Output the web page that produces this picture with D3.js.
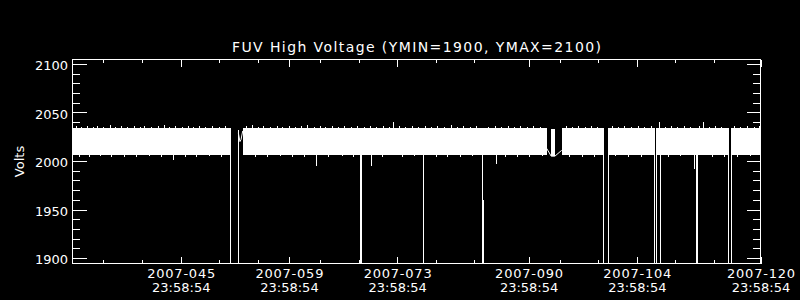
<!DOCTYPE html>
<html>
<head>
<meta charset="utf-8">
<script src="https://cdn.jsdelivr.net/npm/d3@7"></script>
<style>
	html, body { margin: 0; padding: 0; background: #000; }
	svg { display: block; }
	text { font-family: 'DejaVu Sans', sans-serif; fill: #fff; }
</style>
</head>
<body>
<div id="chart"></div>
<script>
// day-of-year 2007 (decimal), ticks sit at 23:58:54 of the labelled day
var tick_offset = 1 - 66 / 86400;

var x_major_days = [45, 59, 73, 90, 104, 120];
var x_minor_days = [35, 40, 50, 55, 63, 68, 78, 83, 94, 99, 109, 114];
var x_tick_time = '23:58:54';
var y_major = [1900, 1950, 2000, 2050, 2100];
var y_minor = [1910, 1920, 1930, 1940, 1960, 1970, 1980, 1990, 2010, 2020, 2030, 2040, 2060, 2070, 2080, 2090];

// [start day, end day, low volts, high volts] of the dense band
var band_segments = [
	[31.99, 52.44, 2006, 2034],
	[54.02, 84.97, 2006, 2034],
	[85.10, 93.34, 2006, 2034],
	[93.88, 94.42, 2005, 2033],
	[95.28, 100.70, 2006, 2034],
	[101.27, 107.30, 2006, 2034],
	[107.43, 116.88, 2006, 2034],
	[117.14, 121.10, 2006, 2034]
];

// dropouts: [day, from volts, to volts]
var dropouts = [
	[52.43, 2034, 1880], [53.41, 2032, 1880],
	[69.14, 2034, 1880], [69.26, 2034, 1880],
	[77.38, 2006, 1880],
	[84.91, 2034, 1880], [85.04, 1960, 1880],
	[100.67, 2034, 1880], [101.31, 2034, 1880],
	[107.23, 2034, 1880], [107.49, 2034, 1880], [108.00, 2034, 1880],
	[112.70, 2034, 1880], [112.82, 2034, 1880],
	[116.84, 2033, 1880], [117.18, 2034, 1880]
];

// short excursions below the band
var low_spikes = [[45.04, 2001], [63.50, 1995], [70.65, 1995], [86.74, 1996.6], [112.43, 1992]];
// short excursions above the band
var high_spikes = [[73.50, 2040], [107.91, 2040], [113.60, 2040]];

// ramps inside gaps
var ramps = [
	[[53.45, 2029], [53.66, 2020], [53.80, 2022], [54.02, 2031]],
	[[93.34, 2013], [93.92, 2005], [94.40, 2005], [95.28, 2011]]
];

// ragged edges of the band
var upper_jitter = [
	[32.4, 2036], [33.1, 2035.5], [33.9, 2036.5], [34.6, 2035], [35.2, 2036], [36.0, 2035.5], [36.8, 2037],
	[37.5, 2035], [38.3, 2036], [39.0, 2035.5], [39.9, 2036], [40.7, 2035], [41.3, 2036.5], [42.2, 2035.5],
	[43.0, 2036], [43.8, 2037], [44.5, 2035], [45.3, 2036], [46.1, 2035.5], [46.9, 2036.5], [47.6, 2035],
	[48.4, 2036], [49.2, 2035.5], [50.1, 2036], [50.9, 2035], [51.7, 2036.5], [54.4, 2036], [55.2, 2037],
	[56.0, 2035.5], [56.7, 2036], [57.5, 2035], [58.4, 2036.5], [59.1, 2035.5], [60.0, 2036], [60.8, 2035],
	[61.5, 2036], [62.3, 2037], [63.2, 2035.5], [64.0, 2036], [64.7, 2035], [65.6, 2036.5], [66.4, 2035.5],
	[67.1, 2036], [68.0, 2035], [68.8, 2036], [69.7, 2035.5], [70.5, 2036], [71.3, 2035], [72.2, 2036.5],
	[73.0, 2035.5], [74.2, 2036], [75.0, 2035], [75.9, 2036.5], [76.7, 2035.5], [77.6, 2036], [78.4, 2035],
	[79.2, 2036], [80.1, 2035.5], [80.9, 2037], [81.7, 2035], [82.5, 2036], [83.4, 2035.5], [84.2, 2036],
	[85.8, 2035.5], [86.6, 2036], [87.4, 2035], [88.3, 2036.5], [89.1, 2035.5], [89.9, 2036], [90.8, 2035],
	[91.6, 2036], [92.5, 2035.5], [95.8, 2036], [96.6, 2035], [97.4, 2036.5], [98.3, 2035.5], [99.1, 2036],
	[99.9, 2035], [101.8, 2036], [102.6, 2035.5], [103.4, 2036.5], [104.3, 2035], [105.1, 2036], [105.9, 2035.5],
	[106.8, 2036], [108.6, 2035], [109.4, 2036], [110.2, 2035.5], [111.1, 2036.5], [111.9, 2035], [113.1, 2036],
	[114.3, 2035.5], [115.1, 2036], [115.9, 2035], [117.6, 2036], [118.4, 2035.5], [119.2, 2036.5], [120.1, 2035],
	[120.8, 2036]
];
var lower_jitter = [
	[32.9, 2004.5], [34.1, 2004], [35.6, 2005], [37.0, 2004], [38.7, 2004.5], [40.2, 2004], [41.9, 2005],
	[43.4, 2004], [46.5, 2004.5], [48.0, 2004], [49.6, 2005], [51.2, 2004], [55.6, 2004.5], [57.1, 2004],
	[58.8, 2005], [60.4, 2004], [62.0, 2004.5], [65.1, 2004], [66.8, 2005], [68.3, 2004], [72.0, 2004.5],
	[74.6, 2004], [76.2, 2005], [79.0, 2004], [80.5, 2004.5], [82.1, 2004], [83.7, 2005], [87.9, 2004],
	[89.5, 2004.5], [91.1, 2004], [92.7, 2005], [96.2, 2004], [97.9, 2004.5], [99.5, 2004], [102.2, 2005],
	[103.9, 2004], [105.5, 2004.5], [109.0, 2004], [110.6, 2005], [114.7, 2004], [116.3, 2004.5], [118.0, 2004],
	[119.6, 2005]
];

var pad_num = n => ('00' + n).slice(-3);

var plot_left = 72.5, plot_right = 760.5, plot_top = 59.5, plot_bottom = 263.5;

var svg = d3.select('#chart')
	.append('svg')
	.attr('width', 800)
	.attr('height', 300)
	.style('background', '#000');

var x = d3.scaleLinear()
	.domain([31 + tick_offset, 120 + tick_offset])
	.range([plot_left, plot_right]);

var y = d3.scaleLinear()
	.domain([1894.5, 2104.5])
	.range([plot_bottom, plot_top]);

var px = d => Math.round(x(d)) + 0.5;

svg.append('clipPath')
	.attr('id', 'plot_clip')
	.append('rect')
	.attr('x', plot_left)
	.attr('y', plot_top)
	.attr('width', plot_right - plot_left)
	.attr('height', plot_bottom - plot_top);

var plot = svg.append('g')
	.attr('clip-path', 'url(#plot_clip)')
	.attr('shape-rendering', 'crispEdges');

// band
plot.selectAll('.band')
	.data(band_segments)
	.enter()
	.append('rect')
		.attr('x', d => Math.round(x(d[0])))
		.attr('width', d => Math.round(x(d[1])) - Math.round(x(d[0])))
		.attr('y', d => y(d[3]))
		.attr('height', d => y(d[2]) - y(d[3]))
		.style('fill', '#fff');

// band edges
plot.selectAll('.up_jit')
	.data(upper_jitter)
	.enter()
	.append('line')
		.attr('x1', d => px(d[0]))
		.attr('x2', d => px(d[0]))
		.attr('y1', y(2034))
		.attr('y2', d => y(d[1]))
		.attr('stroke', '#fff');

plot.selectAll('.low_jit')
	.data(lower_jitter)
	.enter()
	.append('line')
		.attr('x1', d => px(d[0]))
		.attr('x2', d => px(d[0]))
		.attr('y1', y(2006))
		.attr('y2', d => y(d[1]))
		.attr('stroke', '#fff');

// dropouts
plot.selectAll('.drop')
	.data(dropouts)
	.enter()
	.append('line')
		.attr('x1', d => px(d[0]))
		.attr('x2', d => px(d[0]))
		.attr('y1', d => y(d[1]))
		.attr('y2', d => y(d[2]))
		.attr('stroke', '#fff');

plot.selectAll('.low_spike')
	.data(low_spikes)
	.enter()
	.append('line')
		.attr('x1', d => px(d[0]))
		.attr('x2', d => px(d[0]))
		.attr('y1', y(2006))
		.attr('y2', d => y(d[1]))
		.attr('stroke', '#fff');

plot.selectAll('.high_spike')
	.data(high_spikes)
	.enter()
	.append('line')
		.attr('x1', d => px(d[0]))
		.attr('x2', d => px(d[0]))
		.attr('y1', y(2034))
		.attr('y2', d => y(d[1]))
		.attr('stroke', '#fff');

var ramp_line = d3.line()
	.x(d => x(d[0]))
	.y(d => y(d[1]));

plot.selectAll('.ramp')
	.data(ramps)
	.enter()
	.append('path')
		.attr('d', ramp_line)
		.attr('fill', 'none')
		.attr('stroke', '#fff')
		.attr('shape-rendering', 'auto');

// axes
var x_major = x_major_days.map(d => d + tick_offset);
var x_minor = x_minor_days.map(d => d + tick_offset);

function style_axis(g) {
	g.attr('shape-rendering', 'crispEdges');
	g.selectAll('.domain').remove();
	g.selectAll('line').attr('stroke', '#fff');
	g.selectAll('text')
		.style('fill', '#fff')
		.style('font-family', "'DejaVu Sans', sans-serif")
		.style('font-size', '13px');
}

// bottom axis with two line labels
var x_bottom = svg.append('g')
	.attr('transform', 'translate(0,' + plot_bottom + ')')
	.call(d3.axisBottom(x).tickValues(x_major).tickSize(-7).tickFormat(''))
	.call(style_axis);
svg.append('g')
	.attr('transform', 'translate(0,' + plot_bottom + ')')
	.call(d3.axisBottom(x).tickValues(x_minor).tickSize(-3.5).tickFormat(''))
	.call(style_axis);

x_bottom.selectAll('.tick text').remove();
x_bottom.selectAll('.tick')
	.append('text')
		.attr('text-anchor', 'middle')
		.style('font-family', "'DejaVu Sans', sans-serif")
		.style('font-size', '13px')
		.style('fill', '#fff')
		.each(function(d, i) {
			var t = d3.select(this);
			t.append('tspan')
				.attr('x', 0)
				.attr('y', 14.5)
				.attr('textLength', 68)
				.attr('lengthAdjust', 'spacing')
				.text('2007-' + pad_num(x_major_days[i]));
			t.append('tspan')
				.attr('x', 0)
				.attr('y', 28.5)
				.text(x_tick_time);
		});

// top axis
svg.append('g')
	.attr('transform', 'translate(0,' + plot_top + ')')
	.call(d3.axisTop(x).tickValues(x_major).tickSize(-7).tickFormat(''))
	.call(style_axis);
svg.append('g')
	.attr('transform', 'translate(0,' + plot_top + ')')
	.call(d3.axisTop(x).tickValues(x_minor).tickSize(-3.5).tickFormat(''))
	.call(style_axis);

// left axis
svg.append('g')
	.attr('transform', 'translate(' + plot_left + ',0)')
	.call(d3.axisLeft(y).tickValues(y_major).tickSize(-14).tickPadding(4.5).tickFormat(d3.format('d')))
	.call(style_axis)
	.selectAll('text')
		.attr('dy', '0.43em');
svg.append('g')
	.attr('transform', 'translate(' + plot_left + ',0)')
	.call(d3.axisLeft(y).tickValues(y_minor).tickSize(-7.5).tickFormat(''))
	.call(style_axis);

// right axis
svg.append('g')
	.attr('transform', 'translate(' + plot_right + ',0)')
	.call(d3.axisRight(y).tickValues(y_major).tickSize(-14).tickFormat(''))
	.call(style_axis);
svg.append('g')
	.attr('transform', 'translate(' + plot_right + ',0)')
	.call(d3.axisRight(y).tickValues(y_minor).tickSize(-7.5).tickFormat(''))
	.call(style_axis);

// frame
svg.append('rect')
	.attr('x', plot_left)
	.attr('y', plot_top)
	.attr('width', plot_right - plot_left)
	.attr('height', plot_bottom - plot_top)
	.attr('fill', 'none')
	.attr('stroke', '#fff')
	.attr('shape-rendering', 'crispEdges');

// title
svg.append('text')
	.attr('x', (plot_left + plot_right) / 2)
	.attr('y', 52)
	.attr('text-anchor', 'middle')
	.attr('textLength', 369)
	.attr('lengthAdjust', 'spacing')
	.style('font-size', '14px')
	.text('FUV High Voltage (YMIN=1900, YMAX=2100)');

// y label
svg.append('text')
	.attr('transform', 'translate(23.5,' + (plot_top + plot_bottom) / 2 + ') rotate(-90)')
	.attr('text-anchor', 'middle')
	.style('font-size', '13px')
	.text('Volts');
</script>
</body>
</html>
